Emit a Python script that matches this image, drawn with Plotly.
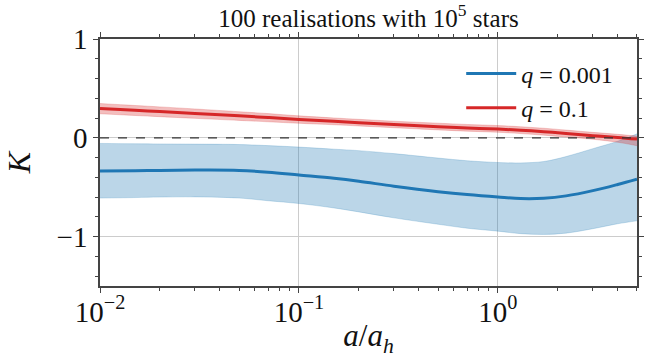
import plotly.graph_objects as go

# sample positions a/a_h
x = [0.01, 0.015, 0.02, 0.03, 0.05, 0.07, 0.1, 0.15, 0.2, 0.3, 0.5, 0.7, 1.0, 1.3, 1.7, 2.2, 3.0, 4.0, 5.0]

# q = 0.001
blue_mean = [-0.335, -0.333, -0.330, -0.327, -0.330, -0.348, -0.377, -0.41, -0.44, -0.49, -0.545, -0.575,
             -0.600, -0.615, -0.612, -0.588, -0.535, -0.472, -0.418]
blue_upper = [-0.057, -0.06, -0.062, -0.064, -0.068, -0.079, -0.094, -0.115, -0.13, -0.16, -0.205, -0.232,
              -0.25, -0.254, -0.24, -0.19, -0.11, -0.035, 0.04]
blue_lower = [-0.61, -0.605, -0.60, -0.598, -0.61, -0.637, -0.665, -0.71, -0.75, -0.81, -0.875, -0.915,
              -0.945, -0.97, -0.978, -0.965, -0.92, -0.87, -0.84]

# q = 0.1
red_mean = [0.297, 0.278, 0.265, 0.246, 0.222, 0.205, 0.186, 0.167, 0.153, 0.134, 0.113, 0.1,
            0.088, 0.077, 0.062, 0.044, 0.022, 0.004, -0.013]
red_upper = [0.347, 0.327, 0.313, 0.292, 0.264, 0.245, 0.222, 0.201, 0.187, 0.168, 0.148, 0.135,
             0.124, 0.112, 0.097, 0.078, 0.055, 0.035, 0.017]
red_lower = [0.243, 0.226, 0.214, 0.197, 0.176, 0.162, 0.147, 0.132, 0.12, 0.102, 0.08, 0.067,
             0.056, 0.043, 0.027, 0.008, -0.015, -0.045, -0.08]

x_tickvals = [0.01, 0.1, 1]
x_ticktext = ["10<sup>−2</sup>", "10<sup>−1</sup>", "10<sup>0</sup>"]
x_minor = [m * 10 ** k for k in (-2, -1, 0) for m in range(2, 10) if m * 10 ** k <= 5]
y_tickvals = [-1, 0, 1]
y_ticktext = ["−1", "0", "1"]

BLUE = "#1f77b4"
RED = "#d62728"
FONT = "Liberation Serif"

fig = go.Figure()
fig.add_trace(go.Scatter(x=x, y=blue_lower, mode="lines", line=dict(width=0.6, color="rgba(31,119,180,0.35)"),
                         showlegend=False, hoverinfo="skip", line_shape="spline"))
fig.add_trace(go.Scatter(x=x, y=blue_upper, mode="lines", line=dict(width=0.6, color="rgba(31,119,180,0.35)"),
                         fill="tonexty", fillcolor="rgba(31,119,180,0.3)", showlegend=False,
                         hoverinfo="skip", line_shape="spline"))
fig.add_trace(go.Scatter(x=x, y=blue_mean, mode="lines", line=dict(width=3, color=BLUE),
                         name="<i>q</i> = 0.001", line_shape="spline"))
fig.add_trace(go.Scatter(x=x, y=red_lower, mode="lines", line=dict(width=0.6, color="rgba(214,39,40,0.35)"),
                         showlegend=False, hoverinfo="skip", line_shape="spline"))
fig.add_trace(go.Scatter(x=x, y=red_upper, mode="lines", line=dict(width=0.6, color="rgba(214,39,40,0.35)"),
                         fill="tonexty", fillcolor="rgba(214,39,40,0.3)", showlegend=False,
                         hoverinfo="skip", line_shape="spline"))
fig.add_trace(go.Scatter(x=x, y=red_mean, mode="lines", line=dict(width=3, color=RED),
                         name="<i>q</i> = 0.1", line_shape="spline"))

fig.add_hline(y=0, line=dict(color="#333333", width=1.2, dash="dash"), layer="above")

axis_common = dict(showline=True, linecolor="#444444", linewidth=1.5, mirror="ticks",
                   ticks="outside", ticklen=5, tickwidth=1.2, tickcolor="#444444",
                   showgrid=True, gridcolor="#cccccc", gridwidth=1, zeroline=False, automargin=False,
                   tickfont=dict(family=FONT, size=29, color="#111111"))

fig.update_xaxes(type="log", range=[-2, 0.699], tickvals=x_tickvals, ticktext=x_ticktext,
                 ticklabelstandoff=-6,
                 minor=dict(tickvals=x_minor, ticks="outside", ticklen=3, tickcolor="#444444", showgrid=False),
                 title=dict(text="<i>a</i>/<i>a<sub>h</sub></i>", font=dict(family=FONT, size=31, color="#111111"),
                            standoff=2),
                 **axis_common)
fig.update_yaxes(range=[-1.5, 1], tickvals=y_tickvals, ticktext=y_ticktext,
                 minor=dict(dtick=0.2, tick0=0, ticks="outside", ticklen=3, tickcolor="#444444", showgrid=False),
                 title=dict(text="<i>K</i>", font=dict(family=FONT, size=32, color="#111111"), standoff=16),
                 **axis_common)

fig.update_layout(
    width=648, height=358,
    margin=dict(l=100, r=11, t=39, b=72, autoexpand=False),
    paper_bgcolor="white", plot_bgcolor="white",
    title=dict(text="100 realisations with 10<sup>5</sup> stars", x=0.5, xref="paper", y=0.95, yanchor="middle",
               font=dict(family=FONT, size=25, color="#111111")),
    legend=dict(x=0.965, y=0.95, xanchor="right", yanchor="top", bgcolor="rgba(255,255,255,0)",
                traceorder="normal",
                font=dict(family=FONT, size=24, color="#111111"), tracegroupgap=0, itemwidth=50),
    showlegend=True,
)

fig.write_html("out.html")
